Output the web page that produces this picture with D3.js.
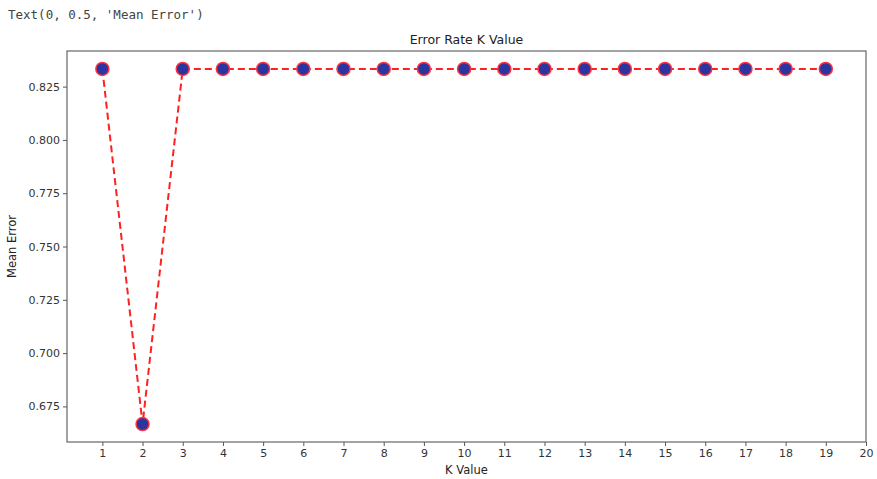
<!DOCTYPE html>
<html>
<head>
<meta charset="utf-8">
<script src="https://cdn.jsdelivr.net/npm/d3@7/dist/d3.min.js"></script>
<style>
  body { margin: 0; background: #fff; }
  svg { display: block; }
</style>
</head>
<body>
<svg id="chart" width="877" height="479"></svg>
<script>
// K values and their mean error
const kValues = [1, 2, 3, 4, 5, 6, 7, 8, 9, 10, 11, 12, 13, 14, 15, 16, 17, 18, 19];
const meanError = [0.8333, 0.6667, 0.8333, 0.8333, 0.8333, 0.8333, 0.8333, 0.8333, 0.8333, 0.8333,
                   0.8333, 0.8333, 0.8333, 0.8333, 0.8333, 0.8333, 0.8333, 0.8333, 0.8333];
const xTicks = [1, 2, 3, 4, 5, 6, 7, 8, 9, 10, 11, 12, 13, 14, 15, 16, 17, 18, 19, 20];
const yTicks = [0.675, 0.700, 0.725, 0.750, 0.775, 0.800, 0.825];

(function () {
  const svg = d3.select("#chart");
  const pl = 67, pr = 866, pt = 51, pb = 442;
  const font = "'DejaVu Sans', sans-serif";

  const x = d3.scaleLinear().domain([0.12, 20]).range([pl, pr]);
  const y = d3.scaleLinear().domain([0.6583, 0.8417]).range([pb, pt]);

  // Output line above the figure
  svg.append("text")
    .attr("x", 8).attr("y", 19)
    .attr("font-family", "'DejaVu Sans Mono', monospace")
    .attr("font-size", 12.5)
    .attr("fill", "#444")
    .text("Text(0, 0.5, 'Mean Error')");

  // Axes
  const xAxis = d3.axisBottom(x).tickValues(xTicks).tickFormat(d3.format("d")).tickSize(4).tickPadding(3);
  const yAxis = d3.axisLeft(y).tickValues(yTicks).tickFormat(d3.format(".3f")).tickSize(4).tickPadding(3);

  const gx = svg.append("g").attr("transform", `translate(0,${pb})`).call(xAxis);
  const gy = svg.append("g").attr("transform", `translate(${pl},0)`).call(yAxis);
  [gx, gy].forEach(g => {
    g.select(".domain").remove();
    g.selectAll(".tick line").attr("stroke", "#555").attr("stroke-width", 1);
    g.selectAll(".tick text").attr("font-family", font).attr("font-size", 11).attr("fill", "#333");
  });

  // Plot frame
  svg.append("rect")
    .attr("x", pl).attr("y", pt)
    .attr("width", pr - pl).attr("height", pb - pt)
    .attr("fill", "none").attr("stroke", "#666").attr("stroke-width", 1.2);

  // Dashed error line
  const data = kValues.map((k, i) => ({ k, e: meanError[i] }));
  svg.append("path")
    .datum(data)
    .attr("fill", "none")
    .attr("stroke", "#ff2020")
    .attr("stroke-width", 2)
    .attr("stroke-dasharray", "7,4")
    .attr("d", d3.line().x(d => x(d.k)).y(d => y(d.e)));

  // Markers
  svg.append("g").selectAll("circle")
    .data(data)
    .enter().append("circle")
    .attr("cx", d => x(d.k))
    .attr("cy", d => y(d.e))
    .attr("r", 6.5)
    .attr("fill", "#2a35a0")
    .attr("stroke", "#ff3040")
    .attr("stroke-width", 1.5);

  // Titles
  svg.append("text")
    .attr("x", (pl + pr) / 2).attr("y", 44)
    .attr("text-anchor", "middle")
    .attr("font-family", font).attr("font-size", 12.5).attr("fill", "#222")
    .text("Error Rate K Value");

  svg.append("text")
    .attr("x", (pl + pr) / 2).attr("y", 474)
    .attr("text-anchor", "middle")
    .attr("font-family", font).attr("font-size", 11.5).attr("fill", "#222")
    .text("K Value");

  svg.append("text")
    .attr("transform", `translate(16,${(pt + pb) / 2}) rotate(-90)`)
    .attr("text-anchor", "middle")
    .attr("font-family", font).attr("font-size", 11.5).attr("fill", "#222")
    .text("Mean Error");
})();
</script>
</body>
</html>
